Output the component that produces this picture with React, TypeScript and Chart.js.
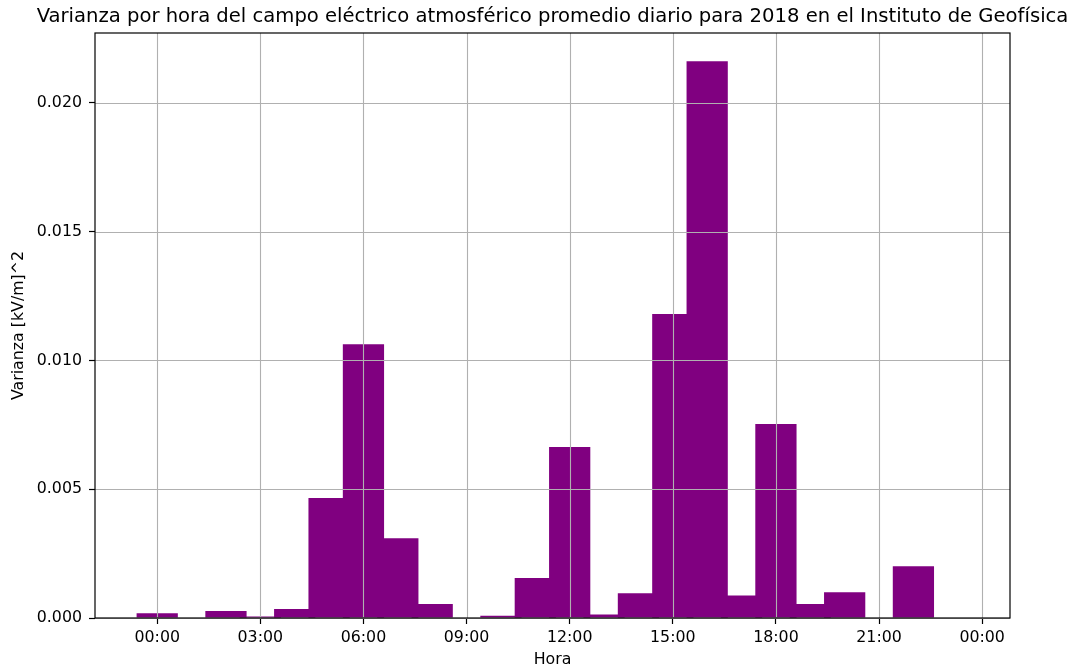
import React, { useEffect, useRef } from 'react';
import { Chart, registerables } from 'chart.js';

Chart.register(...registerables);

const TITLE =
  'Varianza por hora del campo eléctrico atmosférico promedio diario para 2018 en el Instituto de Geofísica';
const X_LABEL = 'Hora';
const Y_LABEL = 'Varianza [kV/m]^2';

const hours = [0, 1, 2, 3, 4, 5, 6, 7, 8, 9, 10, 11, 12, 13, 14, 15, 16, 17, 18, 19, 20, 21, 22, 23];
const varianza = [
  0.00018, 0, 0.00027, 0.00006, 0.00035, 0.00466, 0.01063, 0.0031, 0.00054, 0, 0.00009, 0.00155,
  0.00664, 0.00014, 0.00096, 0.0118, 0.02161, 0.00087, 0.00753, 0.00054, 0.001, 0, 0.00201, 0,
];

const xTickValues = [0, 3, 6, 9, 12, 15, 18, 21, 24];
const xTickLabels = ['00:00', '03:00', '06:00', '09:00', '12:00', '15:00', '18:00', '21:00', '00:00'];
const yTickValues = [0, 0.005, 0.01, 0.015, 0.02];
const yTickLabels = ['0.000', '0.005', '0.010', '0.015', '0.020'];

const X_MIN = -1.81;
const X_MAX = 24.81;
const Y_MAX = 0.02271;

const BAR_COLOR = '#800080';
const GRID_COLOR = '#b0b0b0';
const FONT = 'DejaVu Sans';

const mplFrame = {
  id: 'mplFrame',
  afterDatasetsDraw(chart: any) {
    const { ctx, chartArea: a, scales } = chart;
    ctx.save();
    ctx.strokeStyle = GRID_COLOR;
    ctx.lineWidth = 1.1;
    ctx.beginPath();
    scales.x.ticks.forEach((t: any) => {
      const px = Math.round(scales.x.getPixelForValue(t.value)) + 0.5;
      ctx.moveTo(px, a.top);
      ctx.lineTo(px, a.bottom);
    });
    scales.y.ticks.forEach((t: any) => {
      const py = Math.round(scales.y.getPixelForValue(t.value)) + 0.5;
      ctx.moveTo(a.left, py);
      ctx.lineTo(a.right, py);
    });
    ctx.stroke();
    ctx.strokeStyle = '#000';
    ctx.lineWidth = 1.2;
    ctx.strokeRect(a.left, a.top, a.right - a.left, a.bottom - a.top);
    ctx.restore();
  },
  afterDraw(chart: any) {
    const { ctx, chartArea: a } = chart;
    ctx.save();
    ctx.font = `19.6px "${FONT}"`;
    ctx.fillStyle = '#000';
    ctx.textAlign = 'center';
    ctx.textBaseline = 'alphabetic';
    ctx.fillText(TITLE, (a.left + a.right) / 2, 22);
    ctx.restore();
  },
};

export default function App() {
  const canvasRef = useRef<HTMLCanvasElement | null>(null);

  useEffect(() => {
    if (!canvasRef.current) return;
    Chart.defaults.font.family = FONT;
    const chart = new Chart(canvasRef.current, {
      type: 'bar',
      data: {
        datasets: [
          {
            label: Y_LABEL,
            data: hours.map((h, i) => ({ x: h, y: varianza[i] })),
            backgroundColor: BAR_COLOR,
            borderWidth: 0,
            categoryPercentage: 1,
            barPercentage: 1.2,
          },
        ],
      },
      options: {
        animation: false,
        responsive: true,
        maintainAspectRatio: false,
        layout: { padding: { top: 33, left: 0, right: 70, bottom: 0 } },
        plugins: {
          legend: { display: false },
          tooltip: { enabled: false },
          title: { display: false },
        },
        scales: {
          x: {
            type: 'linear',
            min: X_MIN,
            max: X_MAX,
            offset: false,
            afterBuildTicks: (s: any) => {
              s.ticks = xTickValues.map((v) => ({ value: v }));
            },
            afterFit: (s: any) => {
              s.height = 54;
            },
            grid: {
              display: true,
              drawOnChartArea: false,
              drawTicks: true,
              tickLength: 6,
              tickColor: '#000',
              tickWidth: 1.2,
              offset: false,
            },
            border: { display: false },
            ticks: {
              autoSkip: false,
              maxRotation: 0,
              padding: 4,
              color: '#000',
              font: { family: FONT, size: 15.8 },
              callback: (v: any) => xTickLabels[xTickValues.indexOf(Number(v))],
            },
            title: {
              display: true,
              text: X_LABEL,
              color: '#000',
              font: { family: FONT, size: 15.8 },
              padding: { top: 0, bottom: 3 },
            },
          },
          y: {
            type: 'linear',
            min: 0,
            max: Y_MAX,
            afterBuildTicks: (s: any) => {
              s.ticks = yTickValues.map((v) => ({ value: v }));
            },
            afterFit: (s: any) => {
              s.width = 95;
            },
            grid: {
              display: true,
              drawOnChartArea: false,
              drawTicks: true,
              tickLength: 6,
              tickColor: '#000',
              tickWidth: 1.2,
            },
            border: { display: false },
            ticks: {
              padding: 7,
              color: '#000',
              font: { family: FONT, size: 15.8 },
              callback: (v: any) => yTickLabels[yTickValues.indexOf(Number(v))],
            },
            title: {
              display: true,
              text: Y_LABEL,
              color: '#000',
              font: { family: FONT, size: 15.8 },
              padding: { top: 9, bottom: 0 },
            },
          },
        },
      } as any,
      plugins: [mplFrame],
    });
    return () => chart.destroy();
  }, []);

  return (
    <div style={{ position: 'fixed', left: 0, top: 0, width: 1080, height: 672, background: '#fff' }}>
      <canvas ref={canvasRef} />
    </div>
  );
}
